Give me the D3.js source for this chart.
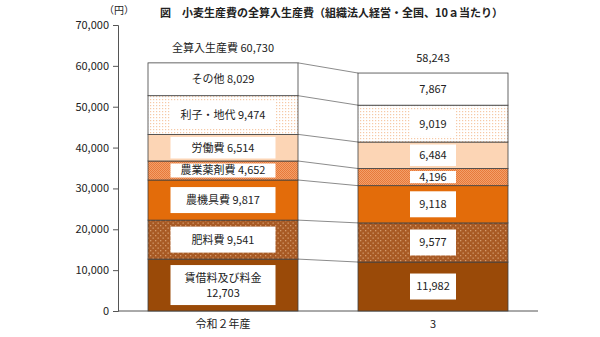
<!DOCTYPE html>
<html><head><meta charset="utf-8">
<script src="https://cdn.jsdelivr.net/npm/d3@7"></script>
<style>
html,body{margin:0;padding:0;background:#fff;}
svg text{font-family:"Noto Sans CJK JP","Noto Sans",sans-serif;fill:#222;}
</style></head>
<body><svg id="c" width="600" height="337"></svg>
<script>
const categories = ["令和２年産", "3"];
const items = ["賃借料及び料金", "肥料費", "農機具費", "農業薬剤費", "労働費", "利子・地代", "その他"];
const valuesR2 = [12703, 9541, 9817, 4652, 6514, 9474, 8029];
const valuesR3 = [11982, 9577, 9118, 4196, 6484, 9019, 7867];
const totals = [60730, 58243];
const totalLabels = ["全算入生産費 60,730", "58,243"];
const yTicks = [0, 10000, 20000, 30000, 40000, 50000, 60000, 70000];
const titleText = "図　小麦生産費の全算入生産費（組織法人経営・全国、10ａ当たり）";
const unitText = "（円）";

const svg = d3.select("#c");
const defs = svg.append("defs");
function pat(id, bg, dot, size, r, off) {
  const p = defs.append("pattern").attr("id", id).attr("patternUnits", "userSpaceOnUse")
    .attr("width", size).attr("height", size);
  p.append("rect").attr("width", size).attr("height", size).attr("fill", bg);
  p.append("rect").attr("x", 0).attr("y", 0).attr("width", r).attr("height", r).attr("fill", dot);
  if (off) p.append("rect").attr("x", size/2).attr("y", size/2).attr("width", r).attr("height", r).attr("fill", dot);
}
pat("pRent", "#ffffff", "#f6c9a6", 3, 1.2, false);
pat("pChem", "#f2a06a", "#e8793a", 2, 1, true);
pat("pFert", "#a85a24", "#d49a6c", 5, 1.3, true);
const fills = ["#9a4a08", "url(#pFert)", "#e36c0a", "url(#pChem)", "#fcd5b5", "url(#pRent)", "#ffffff"];

const y = d3.scaleLinear().domain([0, 70000]).range([311, 25]);
const x = d3.scaleBand().domain(categories).range([118, 538]).paddingInner(0).paddingOuter(0);
const barW = 150;

// axes
const yAxis = d3.axisLeft(y).tickValues(yTicks).tickSize(5).tickPadding(4)
  .tickFormat(d3.format(","));
const gy = svg.append("g").attr("transform", "translate(118,0)").call(yAxis);
gy.select(".domain").attr("stroke", "#555");
gy.selectAll(".tick line").attr("stroke", "#555");
gy.selectAll(".tick text").attr("font-size", 11).attr("fill", "#222")
  .style("font-family", '"Noto Sans CJK JP",sans-serif');
svg.append("line").attr("x1", 118).attr("x2", 538).attr("y1", y(0)).attr("y2", y(0)).attr("stroke", "#555");

svg.selectAll(".xl").data(categories).enter().append("text")
  .attr("x", d => x(d) + x.bandwidth()/2).attr("y", 328).attr("text-anchor", "middle")
  .attr("font-size", 11).text(d => d);

const series = [valuesR2, valuesR3];
const stacks = series.map(vals => {
  let c = 0; return vals.map(v => { const s = c; c += v; return [s, c]; });
});

// connector lines
const boundaries = stacks[0].map((s, i) => i);
svg.selectAll(".conn").data(boundaries).enter().append("line")
  .attr("x1", x(categories[0]) + x.bandwidth()/2 + barW/2)
  .attr("x2", x(categories[1]) + x.bandwidth()/2 - barW/2)
  .attr("y1", i => y(stacks[0][i][1])).attr("y2", i => y(stacks[1][i][1]))
  .attr("stroke", "#8c8c8c").attr("stroke-width", 1);

const boxW = [105, 46];
series.forEach((vals, ci) => {
  const cx = x(categories[ci]) + x.bandwidth()/2;
  const g = svg.append("g");
  g.selectAll("rect.seg").data(stacks[ci]).enter().append("rect")
    .attr("x", cx - barW/2).attr("width", barW)
    .attr("y", d => y(d[1])).attr("height", d => y(d[0]) - y(d[1]))
    .attr("fill", (d, i) => fills[i]).attr("stroke", "#404040").attr("stroke-width", 0.8);
  stacks[ci].forEach((d, i) => {
    const top = y(d[1]), bot = y(d[0]), h = bot - top, mid = (top + bot) / 2;
    const fmt = d3.format(",")(vals[i]);
    let lines;
    if (ci === 0) lines = (i === 0) ? [items[i], fmt] : [items[i] + " " + fmt];
    else lines = [fmt];
    const bh = Math.min(lines.length * 14 + 12, h - 5);
    g.append("rect").attr("x", cx - boxW[ci]/2).attr("width", boxW[ci])
      .attr("y", mid - bh/2).attr("height", bh).attr("fill", "#fff");
    lines.forEach((t, li) => {
      g.append("text").attr("x", cx).attr("y", mid + (li - (lines.length - 1)/2) * 15)
        .attr("dy", "0.36em").attr("text-anchor", "middle").attr("font-size", 11).text(t);
    });
  });
  g.append("text").attr("x", cx).attr("y", y(totals[ci]) - 15).attr("dy", "0.36em")
    .attr("text-anchor", "middle").attr("font-size", 11).text(totalLabels[ci]);
});

svg.append("text").attr("x", 160).attr("y", 17).attr("font-size", 11).attr("font-weight", "bold").text(titleText);
svg.append("text").attr("x", 104).attr("y", 14).attr("font-size", 10).text(unitText);
</script></body></html>
